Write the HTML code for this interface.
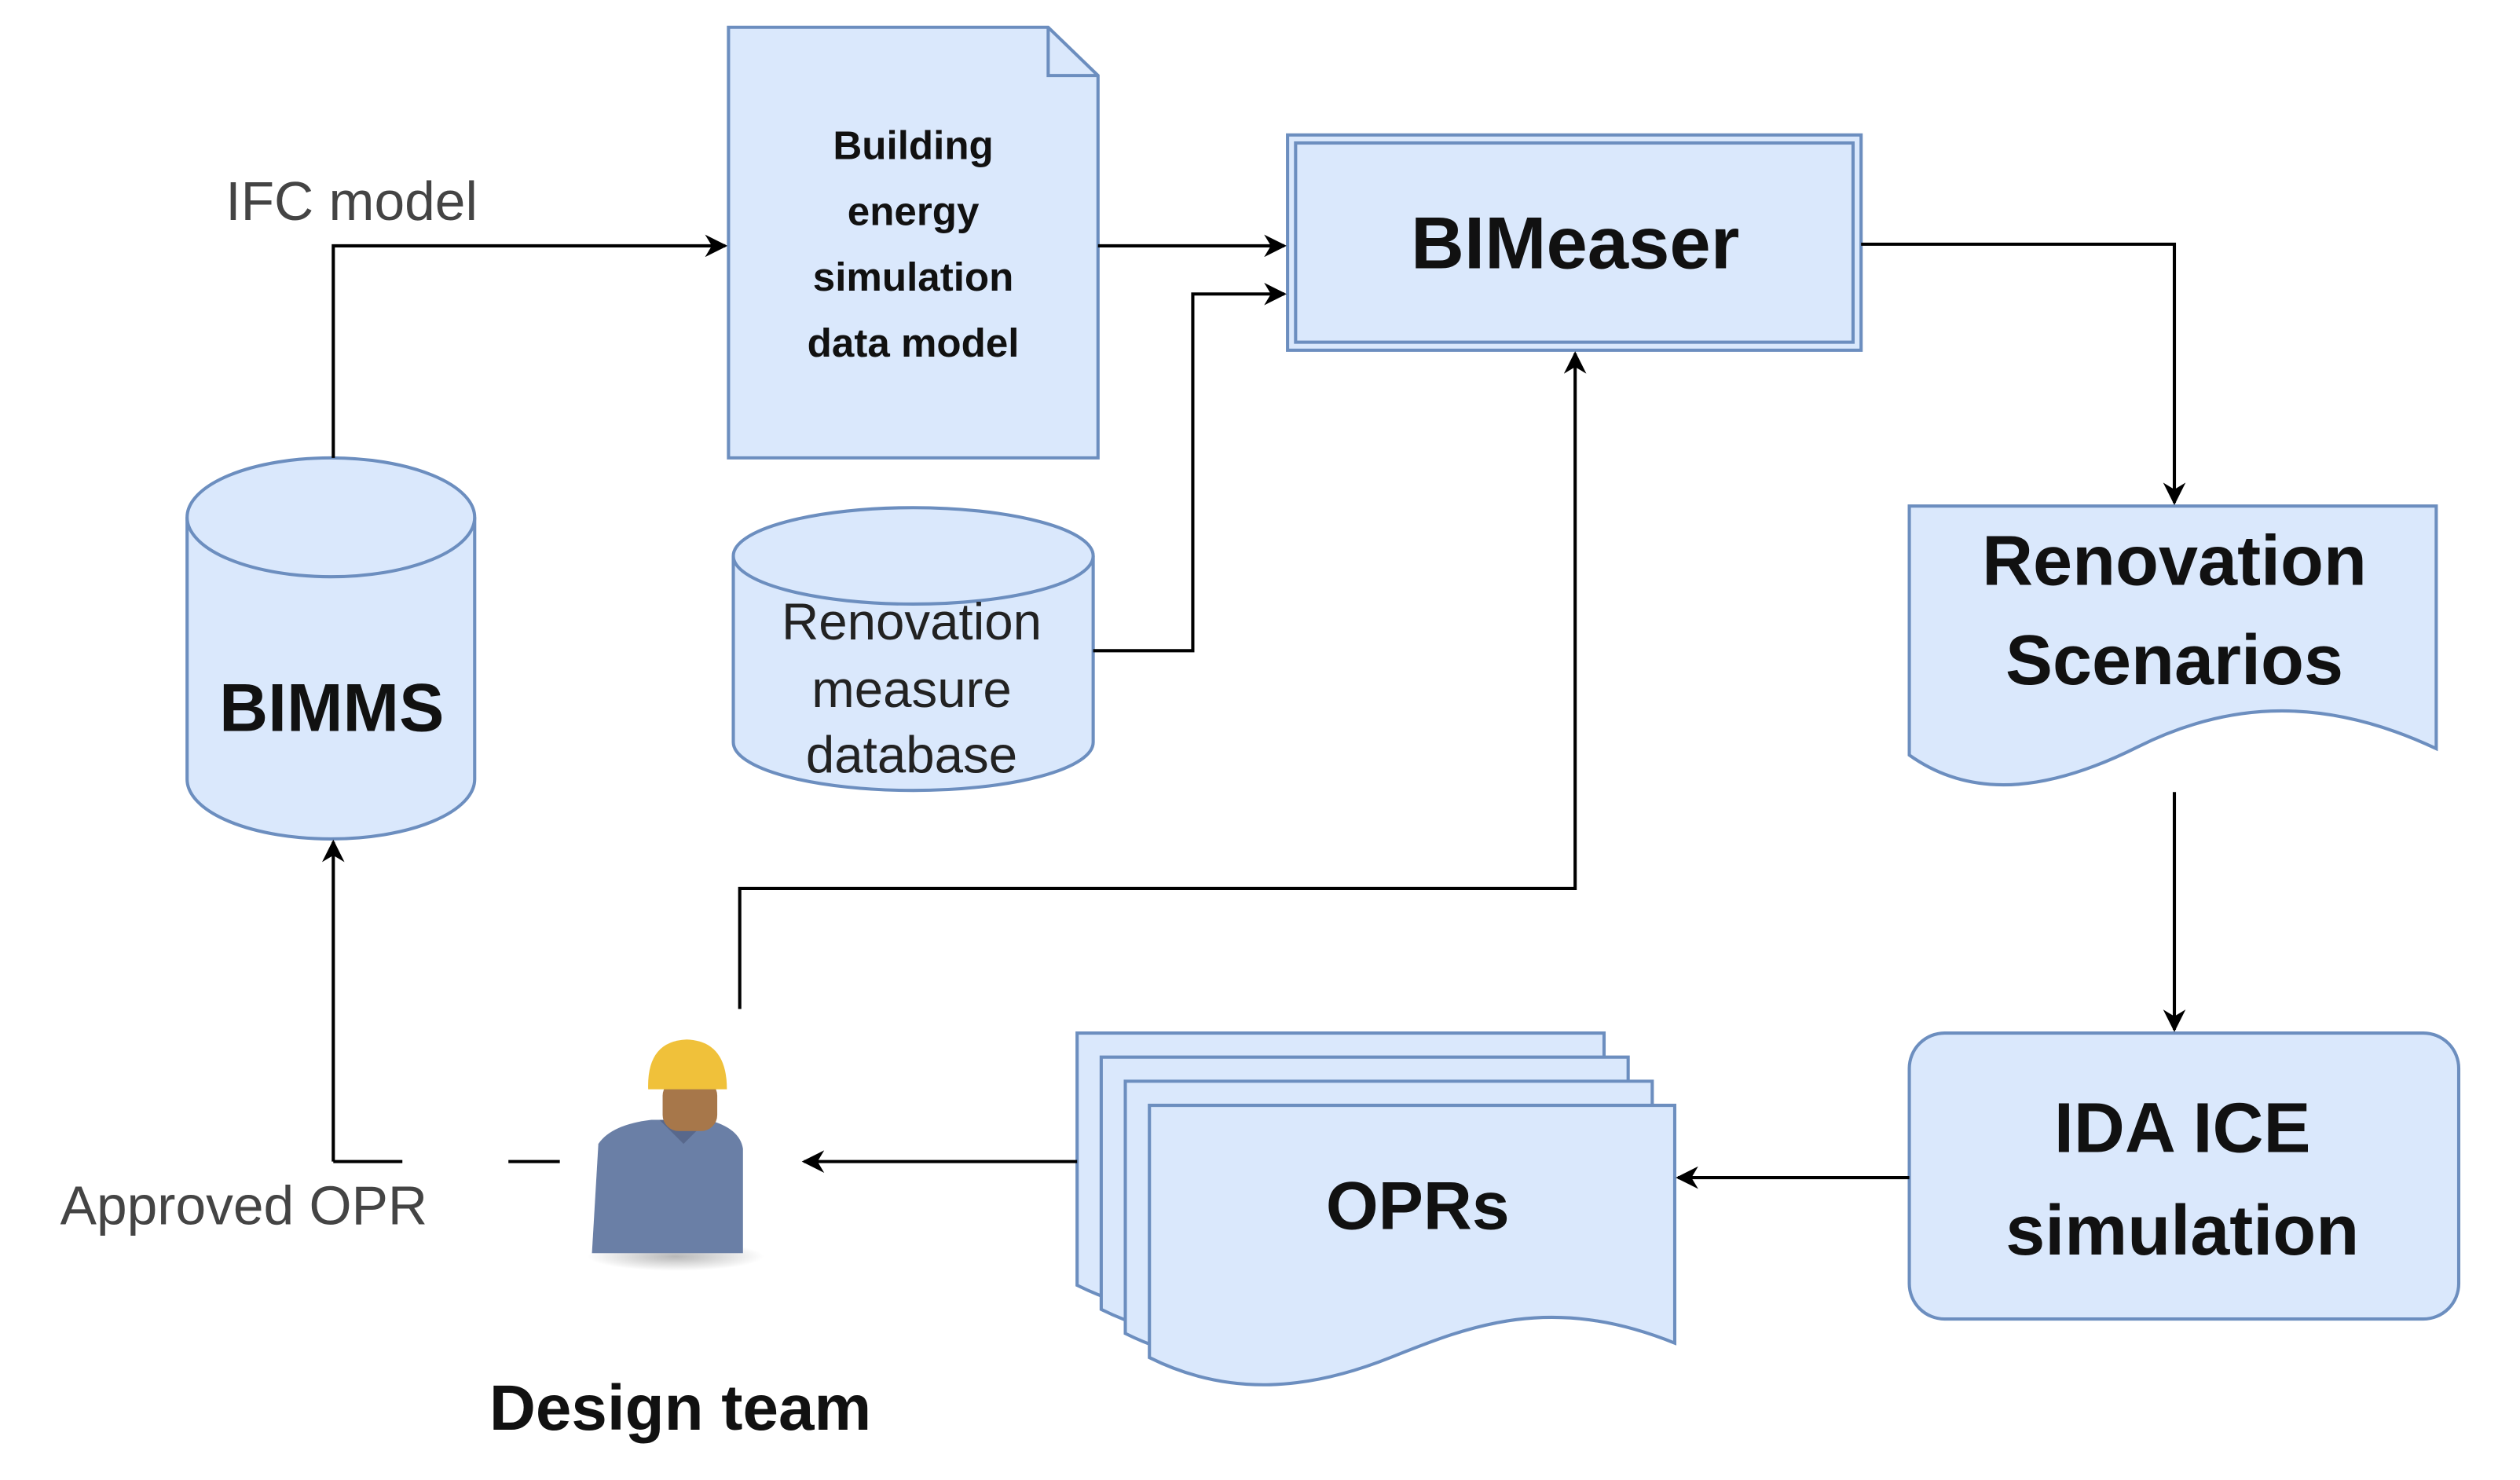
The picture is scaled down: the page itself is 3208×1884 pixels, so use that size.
<!DOCTYPE html>
<html><head><meta charset="utf-8">
<style>
html,body{margin:0;padding:0;background:#fff;}
svg{display:block;}
text{font-family:"Liberation Sans",Arial,sans-serif;}
</style></head>
<body>
<svg width="3208" height="1884" viewBox="0 0 1552 912" xmlns="http://www.w3.org/2000/svg">
<defs>
<marker id="a" viewBox="0 0 10 10" refX="9" refY="5" markerWidth="14" markerHeight="14" markerUnits="userSpaceOnUse" orient="auto">
<path d="M0,0 L10,5 L0,10 L3,5 Z" fill="#000"/>
</marker>
<radialGradient id="sh" cx="0.5" cy="0.5" r="0.5"><stop offset="0" stop-color="#888" stop-opacity="0.6"/><stop offset="1" stop-color="#888" stop-opacity="0"/></radialGradient>
</defs>
<g transform="scale(0.99)">
<g fill="#dae8fc" stroke="#6c8ebf" stroke-width="2">
<path d="M453,17 L652,17 L683,47 L683,285 L453,285 Z"/>
<path d="M652,17 L652,47 L683,47" fill="none"/>
<rect x="801" y="84" width="357" height="134"/>
<rect x="806" y="89" width="347" height="124" fill="none"/>
<path d="M1188,315 L1516,315 L1516,466 C1440,430 1380,440 1330,465 C1280,490 1230,500 1188,470 Z"/>
<rect x="1188" y="643" width="342" height="178" rx="22"/>
<path d="M670,643 L998,643 L998,790 C920,760 870,780 820,800 C770,820 720,825 670,800 Z"/>
<path d="M685,658 L1013,658 L1013,805 C935,775 885,795 835,815 C785,835 735,840 685,815 Z"/>
<path d="M700,673 L1028,673 L1028,820 C950,790 900,810 850,830 C800,850 750,855 700,830 Z"/>
<path d="M715,688 L1042,688 L1042,836 C965,805 915,825 865,845 C815,865 765,870 715,845 Z"/>
<path d="M116,322 L116,485 A89,37 0 0 0 295,485 L295,322"/>
<ellipse cx="205.5" cy="322" rx="89.5" ry="37"/>
<path d="M456,346 L456,462 A112,30 0 0 0 680,462 L680,346"/>
<ellipse cx="568" cy="346" rx="112" ry="30"/>
</g>
<g fill="none" stroke="#000" stroke-width="2">
<path d="M207,285 L207,153 L451,153" marker-end="url(#a)"/>
<path d="M683,153 L799,153" marker-end="url(#a)"/>
<path d="M680,405 L742,405 L742,183 L799,183" marker-end="url(#a)"/>
<path d="M1158,152 L1353,152 L1353,313" marker-end="url(#a)"/>
<path d="M1353,493 L1353,641" marker-end="url(#a)"/>
<path d="M1188,733 L1044,733" marker-end="url(#a)"/>
<path d="M670,723 L500,723" marker-end="url(#a)"/>
<path d="M460,628 L460,553 L980,553 L980,220" marker-end="url(#a)"/>
<path d="M207,723 L207,524" marker-end="url(#a)"/>
<path d="M207,723 L250,723 M316,723 L348,723"/>
</g>
<ellipse cx="420" cy="782" rx="55" ry="9" fill="url(#sh)"/>
<path d="M372,712 Q380,700 405,697 L440,697 Q460,702 462,715 L462,780 L368,780 Z" fill="#6a7fa6"/>
<path d="M410,697 L425,712 L440,697" fill="#58688c"/>
<rect x="412" y="672" width="34" height="32" rx="10" fill="#a7774a"/>
<path d="M403,678 Q402,648 427,647 Q452,648 452,678 Z" fill="#f0c13a"/>
<g font-weight="bold" fill="#111" text-anchor="middle">
<text x="568" y="99" font-size="25">Building</text>
<text x="568" y="140" font-size="25">energy</text>
<text x="568" y="181" font-size="25">simulation</text>
<text x="568" y="222" font-size="25">data model</text>
<text x="980" y="167" font-size="46">BIMeaser</text>
<text x="1353" y="364" font-size="44">Renovation</text>
<text x="1353" y="426" font-size="44">Scenarios</text>
<text x="1358" y="717" font-size="44">IDA ICE</text>
<text x="1358" y="781" font-size="44">simulation</text>
<text x="882" y="765" font-size="42">OPRs</text>
<text x="206" y="455" font-size="42">BIMMS</text>
<text x="423" y="890" font-size="40">Design team</text>
</g>
<g fill="#222" text-anchor="middle" font-size="32">
<text x="567" y="398">Renovation</text>
<text x="567" y="440">measure</text>
<text x="567" y="481">database</text>
</g>
<text x="140" y="137" font-size="34" fill="#444">IFC model</text>
<text x="37" y="762" font-size="34" fill="#444">Approved OPR</text>
</g>
</svg>
</body></html>
